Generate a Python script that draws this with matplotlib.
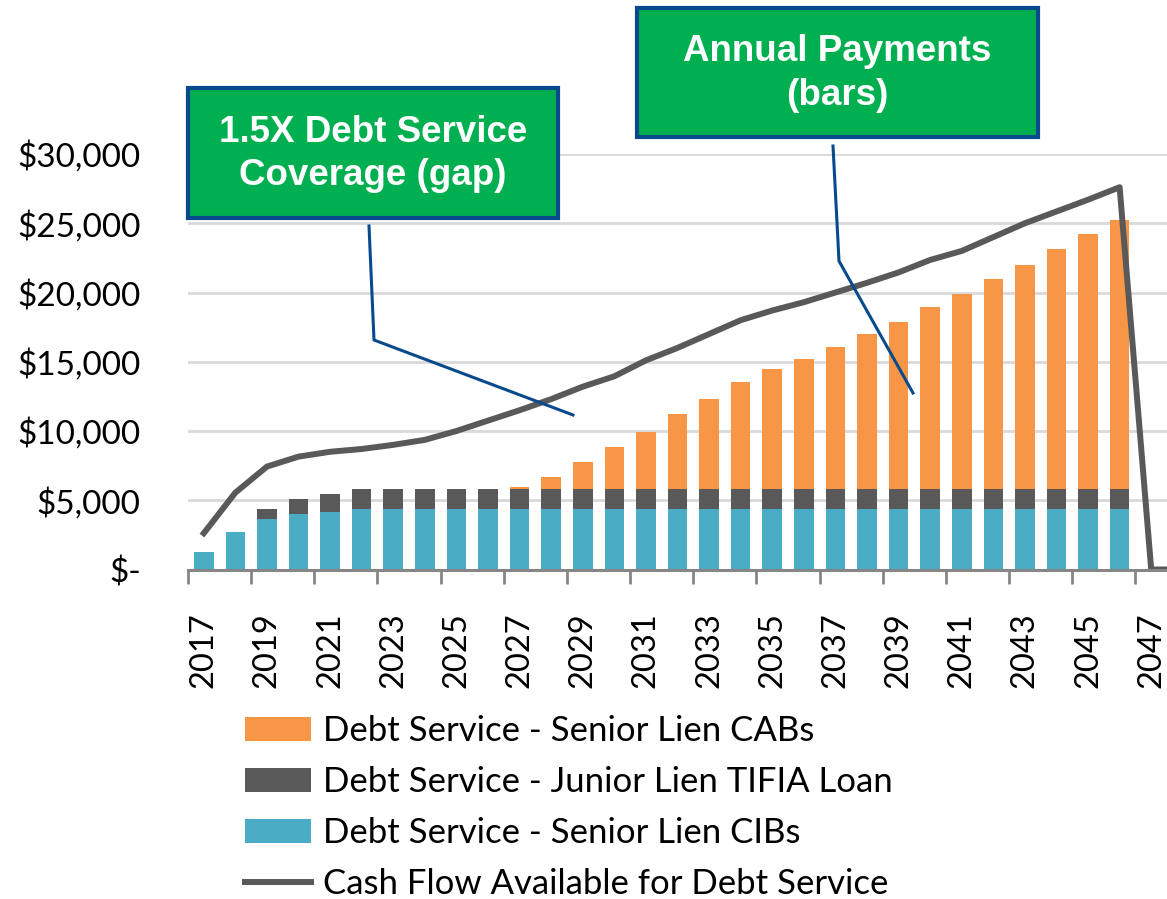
import matplotlib
matplotlib.use('Agg')
import matplotlib.pyplot as plt
from matplotlib import font_manager
from matplotlib.lines import Line2D
from matplotlib.patches import Rectangle

years = list(range(2017, 2048))
senior_cibs = [1290, 2710, 3650, 4010, 4180, 4370, 4370, 4370, 4370, 4370,
               4370, 4370, 4370, 4370, 4370, 4370, 4370, 4370, 4370, 4370,
               4370, 4370, 4370, 4370, 4370, 4370, 4370, 4370, 4370, 4370, 0]
junior_tifia = [0, 0, 720, 1080, 1250, 1410, 1410, 1410, 1410, 1410,
                1410, 1410, 1410, 1410, 1410, 1410, 1410, 1410, 1410, 1410,
                1410, 1410, 1410, 1410, 1410, 1410, 1410, 1410, 1410, 1410, 0]
senior_cabs = [0, 0, 0, 0, 0, 0, 0, 0, 0, 0,
               180, 900, 1990, 3090, 4150, 5430, 6520, 7770, 8680, 9410,
               10300, 11190, 12100, 13180, 14080, 15190, 16240, 17330, 18440, 19490, 0]
line_years = years + [2048]
cash_flow = [2620, 5550, 7430, 8150, 8500, 8700, 9000, 9360, 10000, 10750,
             11500, 12300, 13200, 13950, 15100, 16000, 17000, 18000, 18700, 19300,
             20000, 20700, 21450, 22350, 23000, 24000, 25000, 25850, 26700, 27600, 0, 0]

y_ticks = [0, 5000, 10000, 15000, 20000, 25000, 30000]
y_tick_labels = ['$-', '$5,000', '$10,000', '$15,000', '$20,000', '$25,000', '$30,000']
x_label_years = years[::2]

series_names = ['Debt Service - Senior Lien CABs',
                'Debt Service - Junior Lien TIFIA Loan',
                'Debt Service - Senior Lien CIBs',
                'Cash Flow Available for Debt Service']
box_texts = ['1.5X Debt Service\nCoverage (gap)', 'Annual Payments\n(bars)']

ORANGE = '#F79646'
DARK = '#595959'
CYAN = '#4BACC6'
GREEN = '#00B050'
NAVY = '#084A8C'

installed = {f.name for f in font_manager.fontManager.ttflist}
body_font = 'Lato' if 'Lato' in installed else 'DejaVu Sans'
box_font = 'Liberation Sans Narrow' if 'Liberation Sans Narrow' in installed else 'Liberation Sans'
plt.rcParams['font.family'] = [body_font, 'DejaVu Sans']

W, H = 1167, 899
fig = plt.figure(figsize=(W / 100, H / 100), dpi=100)
ax = fig.add_axes([188 / W, 1 - 569.5 / H, 979 / W, 415.5 / H])

bar_w = 0.62
b_cibs = ax.bar(years, senior_cibs, width=bar_w, color=CYAN, zorder=2)
bottom2 = [a for a in senior_cibs]
b_tifia = ax.bar(years, junior_tifia, width=bar_w, bottom=bottom2, color=DARK, zorder=2)
bottom3 = [a + b for a, b in zip(senior_cibs, junior_tifia)]
b_cabs = ax.bar(years, senior_cabs, width=bar_w, bottom=bottom3, color=ORANGE, zorder=2)
ln, = ax.plot(line_years, cash_flow, color=DARK, lw=4.3, zorder=3)

ax.set_xlim(2016.5, 2047.5)
ax.set_ylim(0, 30000)
ax.set_yticks(y_ticks)
ax.set_yticklabels(y_tick_labels)
ax.yaxis.grid(True, color='#D9D9D9', lw=2.0, zorder=0)
ax.set_axisbelow(True)
ax.tick_params(axis='y', length=0, pad=34, labelsize=24)

ax.set_xticks(x_label_years)
ax.set_xticklabels([str(y) for y in x_label_years], rotation=90)
ax.set_xticks([y - 0.5 for y in x_label_years], minor=True)
ax.tick_params(axis='x', which='major', length=0, pad=31, labelsize=23.5)
ax.tick_params(axis='x', which='minor', length=10, width=2, color='#868686')

for s in ['left', 'right', 'top']:
    ax.spines[s].set_visible(False)
ax.spines['bottom'].set_color('#868686')
ax.spines['bottom'].set_linewidth(2.2)
ax.spines['bottom'].set_zorder(4)

fig.legend(handles=[b_cabs, b_tifia, b_cibs, ln], labels=series_names,
           loc='upper left', bbox_to_anchor=(245 / W, 1 - 715 / H),
           frameon=False, fontsize=25, handlelength=1.9, handleheight=0.66,
           handletextpad=0.36, labelspacing=0.55, borderpad=0, borderaxespad=0)


def px(x, y):
    return x / W, 1 - y / H


# callout boxes with leader lines
boxes = [(188, 88, 558, 218), (637, 8, 1038, 137)]
leaders = [[(369, 226), (374, 340), (573, 415)],
           [(833, 146), (839, 261), (913, 393)]]
for (x0, y0, x1, y1), txt in zip(boxes, box_texts):
    fx0, fy1 = px(x0, y1)
    fx1, fy0 = px(x1, y0)
    fig.add_artist(Rectangle((fx0, fy1), fx1 - fx0, fy0 - fy1, transform=fig.transFigure,
                             facecolor=GREEN, edgecolor=NAVY, lw=3, zorder=5))
    cx, cy = px((x0 + x1) / 2, (y0 + y1) / 2 + 1)
    fig.text(cx, cy, txt, ha='center', va='center', color='white', fontsize=26.5,
             fontweight='bold', family=[box_font, 'DejaVu Sans'], linespacing=1.32,
             zorder=6)
for pts in leaders:
    xs = [px(x, y)[0] for x, y in pts]
    ys = [px(x, y)[1] for x, y in pts]
    fig.add_artist(Line2D(xs, ys, transform=fig.transFigure, color=NAVY, lw=2.2, zorder=5))

fig.savefig('out.png', dpi=100)
